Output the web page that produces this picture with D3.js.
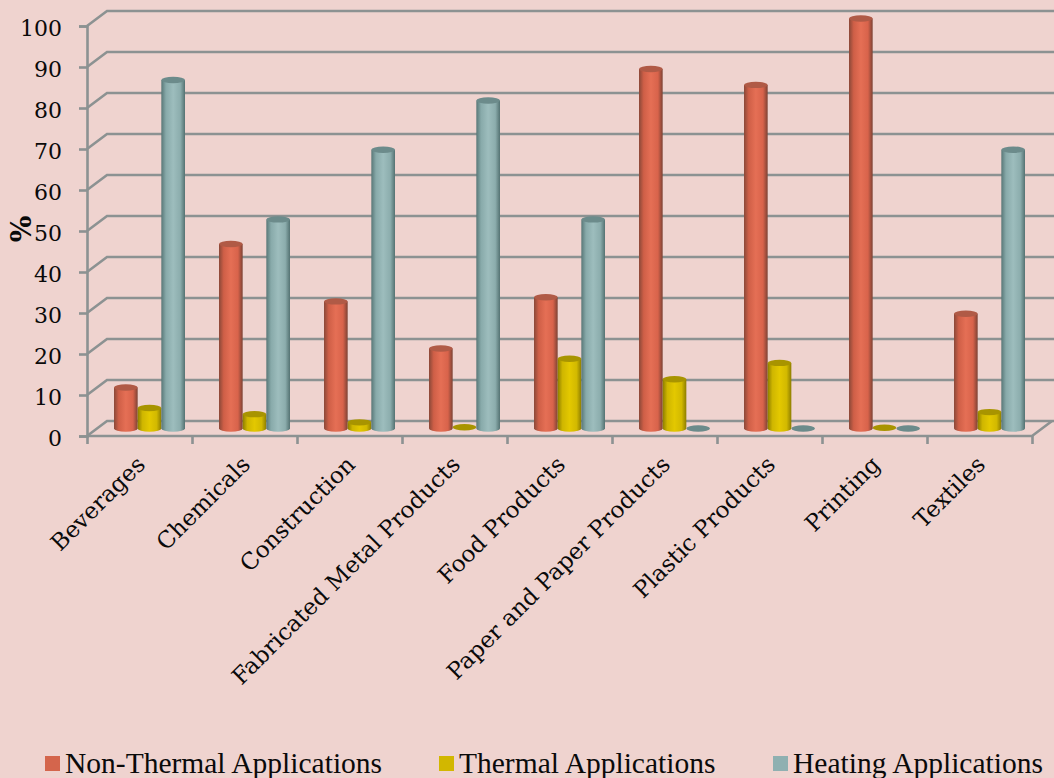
<!DOCTYPE html>
<html>
<head>
<meta charset="utf-8">
<script src="https://cdn.jsdelivr.net/npm/d3@7"></script>
<style>
  html, body { margin: 0; padding: 0; background: #efd3cf; overflow: hidden; }
  svg { display: block; }
  text { fill: #0a0a0a; }
</style>
</head>
<body>
<script>
// Industrial application shares, percent per sector
const categories = ["Beverages", "Chemicals", "Construction", "Fabricated Metal Products", "Food Products", "Paper and Paper Products", "Plastic Products", "Printing", "Textiles"];
const seriesNames = ["Non-Thermal Applications", "Thermal Applications", "Heating Applications"];
const nonThermal = [10, 45, 31, 19.5, 32, 87.7, 83.8, 100, 28];
const thermal = [5, 3.5, 1.5, 0.3, 17, 12, 16, 0.2, 4];
const heating = [85, 51, 68, 80, 51, 0, 0, 0, 68];
const yTicks = [0, 10, 20, 30, 40, 50, 60, 70, 80, 90, 100];

const seriesValues = [nonThermal, thermal, heating];
const bodyColors = [
  ["#8a4838", "#cf5f47", "#e56f55", "#d8634b", "#7d4234"],
  ["#8d7d00", "#cfb600", "#e3c800", "#d2b900", "#8d7d00"],
  ["#587777", "#88aaaa", "#9dbdbd", "#8cadad", "#547272"]
];
const capColors = ["#b05a46", "#a89400", "#6c8b8b"];
const legendColors = ["#d4654c", "#d2b700", "#8fb0b1"];

const width = 1054, height = 778;
const frontLeft = 87, frontRight = 1032, floorY = 436, ceilingY = 26;
const depthX = 20, depthY = -15;
const gridColor = "#8c9292";
const gridWidth = 2.6;

const svg = d3.select("body").append("svg").attr("width", width).attr("height", height);

const defs = svg.append("defs");
bodyColors.forEach((stops, i) => {
  const g = defs.append("linearGradient").attr("id", "cyl" + i);
  stops.forEach((c, k) => {
    g.append("stop").attr("offset", [0, 0.2, 0.5, 0.8, 1][k]).attr("stop-color", c);
  });
});

const xGroup = d3.scaleBand().domain(categories).range([frontLeft, frontRight]);
const xSeries = d3.scaleBand().domain(seriesNames).range([17, xGroup.bandwidth() - 17]);
const y = d3.scaleLinear().domain([0, 100]).range([floorY, ceilingY]);
const tickPos = d3.scaleLinear().domain([0, categories.length]).range([frontLeft, frontRight]);

// Back wall grid and the slanted links to the front axis
const grid = svg.append("g").attr("fill", "none").attr("stroke", gridColor).attr("stroke-width", gridWidth);
yTicks.forEach(t => {
  grid.append("path").attr("d", d3.line()([
    [frontLeft, y(t)],
    [frontLeft + depthX, y(t) + depthY],
    [width + 2, y(t) + depthY]
  ]));
});

// Floor edge
grid.append("path").attr("d", d3.line()([
  [frontLeft, floorY], [frontRight, floorY], [frontRight + depthX, floorY + depthY]
]));

// Value axis
const yAxis = svg.append("g")
  .attr("transform", `translate(${frontLeft},0)`)
  .call(d3.axisLeft(y).tickValues(yTicks).tickSize(8).tickPadding(17).tickFormat(d3.format("d")));
yAxis.selectAll("path, line").attr("stroke", gridColor).attr("stroke-width", gridWidth);
yAxis.selectAll("text")
  .attr("font-family", "'DejaVu Serif'")
  .attr("font-size", 22)
  .attr("dy", "0.42em")
  .attr("fill", "#0a0a0a");

// Category tick marks on the floor edge
const xAxis = svg.append("g")
  .attr("transform", `translate(0,${floorY})`)
  .call(d3.axisBottom(tickPos).tickValues(d3.range(categories.length + 1)).tickSize(8).tickFormat(""));
xAxis.select("path").remove();
xAxis.selectAll("line").attr("stroke", gridColor).attr("stroke-width", gridWidth);

// Cylinders stand halfway into the floor depth
const cx = depthX / 2, cy = depthY / 2;
const capRy = 3.2;
const bars = svg.append("g");
categories.forEach((cat, c) => {
  seriesNames.forEach((name, s) => {
    const v = seriesValues[s][c];
    const x0 = xGroup(cat) + xSeries(name) + cx;
    const w = xSeries.bandwidth();
    const top = y(v) + cy, base = y(0) + cy;
    const rx = w / 2;
    if (v > 0.5) {
      bars.append("path")
        .attr("d", `M${x0},${top}V${base}A${rx},${capRy} 0 0 0 ${x0 + w},${base}V${top}Z`)
        .attr("fill", `url(#cyl${s})`);
    }
    bars.append("ellipse")
      .attr("cx", x0 + rx).attr("cy", top)
      .attr("rx", rx).attr("ry", capRy)
      .attr("fill", capColors[s]);
  });
});

// Rotated category labels
svg.append("g").selectAll("text").data(categories).join("text")
  .attr("text-anchor", "end")
  .attr("transform", d => `translate(${xGroup(d) + xGroup.bandwidth() / 2 + 7},${floorY + 30}) rotate(-45)`)
  .attr("font-family", "'DejaVu Serif'")
  .attr("font-size", 23)
  .text(d => d);

// Axis unit
svg.append("text")
  .attr("transform", "translate(31,229) rotate(-90)")
  .attr("text-anchor", "middle")
  .attr("font-family", "'DejaVu Serif'")
  .attr("font-weight", "bold")
  .attr("font-size", 28)
  .text("%");

// Legend
const legendX = [45, 439, 773];
const legend = svg.append("g").selectAll("g").data(seriesNames).join("g")
  .attr("transform", (d, i) => `translate(${legendX[i]},756)`);
legend.append("rect").attr("width", 15).attr("height", 15)
  .attr("fill", (d, i) => legendColors[i]);
legend.append("text").attr("x", 20).attr("y", 17)
  .attr("font-family", "'Liberation Serif'")
  .attr("font-size", 29.5)
  .text(d => d);
</script>
</body>
</html>
